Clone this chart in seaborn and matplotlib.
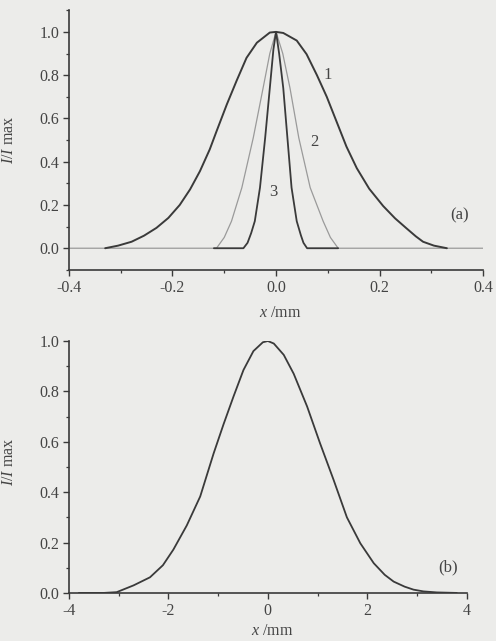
import matplotlib
matplotlib.use('Agg')
import matplotlib.pyplot as plt
import seaborn as sns
from matplotlib.ticker import MultipleLocator

# panel (a): curves 1, 2, 3
x1 = [-0.33, -0.305, -0.279, -0.255, -0.231, -0.208, -0.186, -0.166, -0.147, -0.128, -0.115,
      -0.095, -0.076, -0.057, -0.037, -0.012, 0.0, 0.014, 0.04, 0.059, 0.079, 0.098, 0.117,
      0.136, 0.156, 0.18, 0.207, 0.23, 0.252, 0.27, 0.284, 0.305, 0.33]
y1 = [0.0, 0.012, 0.03, 0.058, 0.094, 0.14, 0.2, 0.272, 0.356, 0.457, 0.54,
      0.665, 0.775, 0.88, 0.95, 0.997, 1.0, 0.995, 0.96, 0.897, 0.80, 0.70, 0.585,
      0.47, 0.37, 0.275, 0.195, 0.138, 0.092, 0.055, 0.03, 0.012, 0.0]

x2 = [-0.40, -0.115, -0.10, -0.086, -0.066, -0.044, -0.025, -0.012, 0.0,
      0.013, 0.027, 0.044, 0.066, 0.091, 0.105, 0.12, 0.40]
y2 = [0.0, 0.0, 0.05, 0.125, 0.28, 0.51, 0.74, 0.9, 1.0,
      0.9, 0.74, 0.51, 0.28, 0.125, 0.05, 0.0, 0.0]

x3 = [-0.12, -0.063, -0.055, -0.048, -0.041, -0.031, -0.021, -0.012, -0.005, 0.0,
      0.006, 0.014, 0.022, 0.030, 0.040, 0.048, 0.053, 0.060, 0.12]
y3 = [0.0, 0.0, 0.025, 0.07, 0.125, 0.28, 0.51, 0.74, 0.92, 1.0,
      0.9, 0.74, 0.51, 0.28, 0.125, 0.06, 0.025, 0.0, 0.0]

# panel (b)
xb = [-3.8, -3.3, -3.04, -2.7, -2.37, -2.11, -1.9, -1.63, -1.36, -1.09, -0.89, -0.69, -0.49,
      -0.29, -0.1, 0.0, 0.12, 0.32, 0.52, 0.79, 1.05, 1.32, 1.59, 1.86, 2.13, 2.35, 2.53,
      2.75, 2.93, 3.13, 3.4, 3.8]
yb = [0.0, 0.0, 0.003, 0.03, 0.062, 0.11, 0.172, 0.268, 0.383, 0.554, 0.67, 0.78, 0.885,
      0.96, 0.995, 1.0, 0.99, 0.945, 0.87, 0.74, 0.594, 0.45, 0.30, 0.197, 0.118, 0.072, 0.045,
      0.025, 0.013, 0.006, 0.002, 0.0]

bg = '#ececea'
ink = '#3a3a3a'

sns.set_style('ticks')
plt.rcParams['font.family'] = ['Liberation Serif', 'DejaVu Serif']
plt.rcParams['mathtext.fontset'] = 'custom'
plt.rcParams['mathtext.rm'] = 'Liberation Serif'
plt.rcParams['mathtext.it'] = 'Liberation Serif:italic'

fig = plt.figure(figsize=(4.96, 6.41), dpi=100, facecolor=bg)
ax_a = fig.add_axes([0.139, 0.579, 0.835, 0.405])
ax_b = fig.add_axes([0.139, 0.075, 0.802, 0.393])

sns.lineplot(x=x2, y=y2, ax=ax_a, color='#9a9a9a', linewidth=0.9, sort=False, estimator=None)
sns.lineplot(x=x3, y=y3, ax=ax_a, color=ink, linewidth=1.3, sort=False, estimator=None)
sns.lineplot(x=x1, y=y1, ax=ax_a, color=ink, linewidth=1.4, sort=False, estimator=None)
sns.lineplot(x=xb, y=yb, ax=ax_b, color=ink, linewidth=1.3, sort=False, estimator=None)

ax_a.set_xlim(-0.4, 0.4)
ax_a.set_ylim(-0.1, 1.1)
ax_a.set_xticks([-0.4, -0.2, 0.0, 0.2, 0.4])
ax_a.set_xticklabels(['-0.4', '-0.2', '0.0', '0.2', '0.4'])
ax_a.xaxis.set_minor_locator(MultipleLocator(0.1))
ax_a.set_yticks([0.0, 0.2, 0.4, 0.6, 0.8, 1.0])
ax_a.yaxis.set_minor_locator(MultipleLocator(0.1))

ax_b.set_xlim(-4, 4)
ax_b.set_ylim(0, 1.0)
ax_b.set_xticks([-4, -2, 0, 2, 4])
ax_b.set_xticklabels(['-4', '-2', '0', '2', '4'])
ax_b.xaxis.set_minor_locator(MultipleLocator(1))
ax_b.set_yticks([0.0, 0.2, 0.4, 0.6, 0.8, 1.0])
ax_b.yaxis.set_minor_locator(MultipleLocator(0.1))

for ax in (ax_a, ax_b):
    ax.set_facecolor(bg)
    sns.despine(ax=ax)
    for side in ('left', 'bottom'):
        ax.spines[side].set_color(ink)
        ax.spines[side].set_linewidth(1.2)
    ax.tick_params(which='major', direction='out', length=4, width=1.0, color=ink,
                   labelsize=11.5, labelcolor='#444444', pad=3)
    ax.tick_params(which='minor', direction='out', length=2.5, width=0.9, color=ink)
    ax.set_xlabel('$x$ /mm', fontsize=11.5, color='#444444')
    ax.set_ylabel('$I/I$ max', fontsize=11.5, color='#444444')

ax_a.xaxis.set_label_coords(0.51, -0.135)
ax_a.yaxis.set_label_coords(-0.125, 0.5)
ax_b.xaxis.set_label_coords(0.51, -0.12)
ax_b.yaxis.set_label_coords(-0.13, 0.52)

ax_a.text(0.10, 0.80, '1', fontsize=12, color='#444444', ha='center', va='center')
ax_a.text(0.075, 0.49, '2', fontsize=12, color='#444444', ha='center', va='center')
ax_a.text(-0.006, 0.26, '3', fontsize=12, color='#444444', ha='center', va='center')
ax_a.text(0.355, 0.15, '(a)', fontsize=12, color='#444444', ha='center', va='center')
ax_b.text(3.63, 0.10, '(b)', fontsize=12, color='#444444', ha='center', va='center')

fig.savefig('out.png', dpi=100, facecolor=bg)
